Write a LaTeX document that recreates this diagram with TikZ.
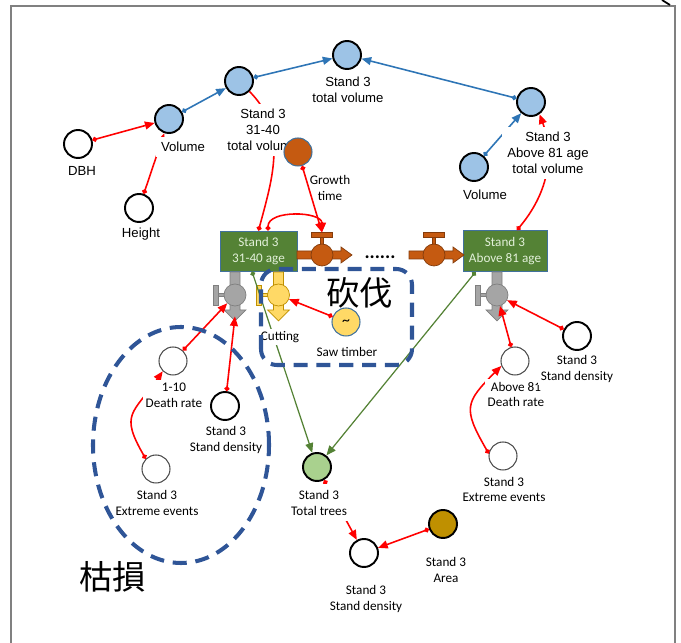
\documentclass[tikz,border=0pt]{standalone}
\usepackage{fontspec}
\setmainfont{Carlito}
\newfontfamily\arialfont{Liberation Sans}
\newfontfamily\cjkfont{Noto Sans CJK TC}
\usetikzlibrary{arrows.meta}
\usetikzlibrary{calc}

\definecolor{volblue}{HTML}{9DC3E6}
\definecolor{linkblue}{HTML}{2E75B6}
\definecolor{linkred}{HTML}{FF0000}
\definecolor{stockgreen}{HTML}{548235}
\definecolor{stockedge}{HTML}{41719C}
\definecolor{stocktext}{HTML}{E2F0D9}
\definecolor{treegreen}{HTML}{A9D18E}
\definecolor{areagold}{HTML}{BF9000}
\definecolor{valvebrown}{HTML}{C55A11}
\definecolor{valvebrownd}{HTML}{843C0C}
\definecolor{valvegray}{HTML}{A5A5A5}
\definecolor{valvegrayd}{HTML}{7F7F7F}
\definecolor{valveyel}{HTML}{FFD966}
\definecolor{valveyeld}{HTML}{BF9000}
\definecolor{dashblue}{HTML}{2F5597}
\definecolor{framegray}{HTML}{808080}

\begin{document}
\begin{tikzpicture}[x=0.02cm,y=0.02cm]
  \tikzset{vertex/.style = {shape=circle,draw,line width=1.1pt,minimum size=0.56cm,inner sep=0pt}}
  \tikzset{thinvertex/.style = {vertex,draw=black!70,line width=0.6pt}}
  \tikzset{volvertex/.style = {vertex,fill=volblue}}
  \tikzset{stock/.style = {shape=rectangle,fill=stockgreen,draw=stockedge,line width=0.5pt,text=stocktext,align=center,font=\fontsize{7.5}{9}\selectfont,inner sep=0pt}}
  \tikzset{lbl/.style = {fill=white,align=center,inner sep=1.5pt,font=\fontsize{7.5}{9}\selectfont}}
  \tikzset{albl/.style = {lbl,inner sep=3pt,font=\arialfont\fontsize{7.5}{9}\selectfont}}
  \tikzset{redge/.style = {linkred,line width=0.9pt,{Circle[length=2.8pt]}-{Triangle[length=5.5pt,width=4.5pt]}}}
  \tikzset{bedge/.style = {redge,linkblue}}
  \tikzset{gedge/.style = {redge,stockgreen,line width=0.7pt}}
  \tikzset{dashbox/.style = {dashblue,line width=2.3pt,dash pattern=on 8pt off 5pt}}
  \tikzset{cjk/.style = {font=\cjkfont\fontsize{19}{19}\selectfont}}

  \useasboundingbox (0,0) rectangle (681,643);
  \draw[framegray,line width=0.6pt] (11,0) -- (11,637) -- (675,637) -- (675,0);
  \draw[line width=1pt] (662,643) -- (670,638);

  % volumes
  \node[volvertex] (tvol) at (347,588) {};
  \node[volvertex] (vol3140) at (239,562) {};
  \node[volvertex] (volL) at (169,524) {};
  \node[volvertex] (vol81) at (531,541) {};
  \node[volvertex] (volR) at (474,476) {};
  \node[vertex] (dbh) at (78,499) {};
  \node[vertex] (height) at (139,435) {};

  % stocks
  \node[stock,minimum width=1.54cm,minimum height=0.8cm] (stockA) at (258.5,392) {Stand 3\\31-40 age};
  \node[stock,minimum width=1.68cm,minimum height=0.82cm] (stockB) at (505,392) {Stand 3\\Above 81 age};

  % flows
  \foreach \s/\c/\n in {297/322/A, 409/434/B} {
    \filldraw[fill=valvebrown,draw=valvebrownd,line width=0.4pt] (\s,384) -- (\c+19,384) -- (\c+19,380) -- (\c+30,388) -- (\c+19,396) -- (\c+19,392) -- (\s,392) -- cycle;
    \filldraw[fill=valvebrown,draw=valvebrownd,line width=0.4pt] (\c-1.5,396) rectangle (\c+1.5,406);
    \node[shape=rectangle,fill=valvebrown,draw=valvebrownd,line width=0.4pt,minimum width=0.42cm,minimum height=0.09cm,inner sep=0pt] (h\n) at (\c,408) {};
    \node[shape=circle,fill=valvebrown,draw=valvebrownd,line width=0.4pt,minimum size=0.44cm,inner sep=0pt] (bv\n) at (\c,388) {};
  }
  \node[font=\fontsize{11}{11}\selectfont\bfseries,anchor=base] (dots) at (380,384) {......};

  \foreach \x/\n/\f/\d in {235/gvA/valvegray/valvegrayd, 278.5/yvA/valveyel/valveyeld, 497/gvB/valvegray/valvegrayd} {
    \filldraw[fill=\f,draw=\d,line width=0.4pt] (\x-5,371) -- (\x-5,333) -- (\x-11,333) -- (\x,322) -- (\x+11,333) -- (\x+5,333) -- (\x+5,371) -- cycle;
    \filldraw[fill=\f,draw=\d,line width=0.4pt] (\x-18,346.5) rectangle (\x-10,349.5);
    \filldraw[fill=\f,draw=\d,line width=0.4pt] (\x-22,338) rectangle (\x-17,358);
    \node[shape=circle,fill=\f,draw=\d,line width=0.4pt,minimum size=0.44cm,inner sep=0pt] (\n) at (\x,348) {};
  }

  % other variables
  \node[vertex,fill=valveyel,draw=stockedge,line width=0.6pt] (saw) at (346,321) {\raisebox{-4pt}{\fontsize{9}{9}\selectfont\textasciitilde}};
  \node[thinvertex] (dr1) at (173,282) {};
  \node[vertex] (sd1) at (225,237) {};
  \node[thinvertex] (ext1) at (156,174) {};
  \node[vertex,fill=treegreen] (trees) at (317,176) {};
  \node[vertex] (sd2) at (364,90) {};
  \node[vertex,fill=areagold] (area) at (443,119) {};
  \node[thinvertex] (dr2) at (515,282) {};
  \node[vertex] (sd3) at (577,307) {};
  \node[thinvertex] (ext2) at (503,187) {};

  \foreach \from/\to in {dbh/volL, height/volL, dr1/gvA, saw/yvA, dr2/gvB, sd3/gvB, trees/sd2, area/sd2}
    \path[redge] (\from) edge (\to);
  \foreach \from/\to in {volL/vol3140, vol3140/tvol, vol81/tvol, volR/vol81}
    \path[bedge] (\from) edge (\to);
  \draw[redge] (sd1) -- ($(gvA.south)+(0,-10)$);
  \draw[gedge] ($(stockA.south)+(-6.5,0)$) -- (trees);
  \draw[gedge] ($(stockB.south west)+(13,0)$) -- (trees);

  \draw[redge] (ext1.135) to[out=120,in=235,looseness=1.5] (dr1.225);
  \draw[redge] (ext2.170) to[out=120,in=225,looseness=1.5] (dr2.200);
  \draw[redge,{Circle[length=2.8pt]}-] (stockA.north) to[out=75,in=-45] (vol3140.-45);
  \draw[redge] ($(stockB.north)+(12,0)$) to[out=50,in=-70] (vol81.-55);
  \draw[redge] ($(stockA.north)+(9.5,0)$) to[out=90,in=90] (hA.north);

  % labels
  \node[albl] (tvol-l) at (348,553) {Stand 3\\total volume};
  \node[albl] (vol3140-l) at (263,513) {Stand 3\\31-40\\total volume};
  \node[albl] (vol81-l) at (548,490) {Stand 3\\Above 81 age\\total volume};
  \node[albl] (volL-l) at (183,496) {Volume};
  \node[albl] (volR-l) at (485,448) {Volume};
  \node[albl] (dbh-l) at (82,472) {DBH};
  \node[albl] (height-l) at (141,409) {Height};
  \node[lbl,minimum width=1.6cm] (cut-l) at (280,306) {Cutting};
  \node[lbl] (saw-l) at (347,291) {Saw timber};
  \node[lbl] (dr1-l) at (174,248) {1-10\\Death rate};
  \node[lbl,minimum width=1.6cm] (sd1-l) at (226,203) {Stand 3\\Stand density};
  \node[lbl] (ext1-l) at (157,140) {Stand 3\\Extreme events};
  \node[lbl,minimum width=1.6cm,minimum height=0.74cm] (trees-l) at (319,140) {Stand 3\\Total trees};
  \node[lbl] (sd2-l) at (366,44) {Stand 3\\Stand density};
  \node[lbl] (area-l) at (446,73) {Stand 3\\Area};
  \node[lbl] (dr2-l) at (516,248.5) {Above 81\\Death rate};
  \node[lbl] (sd3-l) at (577,274) {Stand 3\\Stand density};
  \node[lbl] (ext2-l) at (504,153.5) {Stand 3\\Extreme events};

  \node[vertex,fill=valvebrown,draw=stockedge,line width=0.6pt] (growth) at (298,491) {};
  \node[font=\fontsize{7.5}{9}\selectfont,align=center] (growth-l) at (330,455) {Growth\\time};
  \draw[redge] (growth) -- (hA.north);

  % regions
  \draw[dashbox,rounded corners=9pt] (261,278) rectangle (412,374);
  \draw[dashbox] (181,198) ellipse [x radius=88,y radius=118];
  \node[cjk] (kanfa) at (360,350) {砍伐};
  \node[cjk] (kusun) at (113,66) {枯損};
\end{tikzpicture}
\end{document}
